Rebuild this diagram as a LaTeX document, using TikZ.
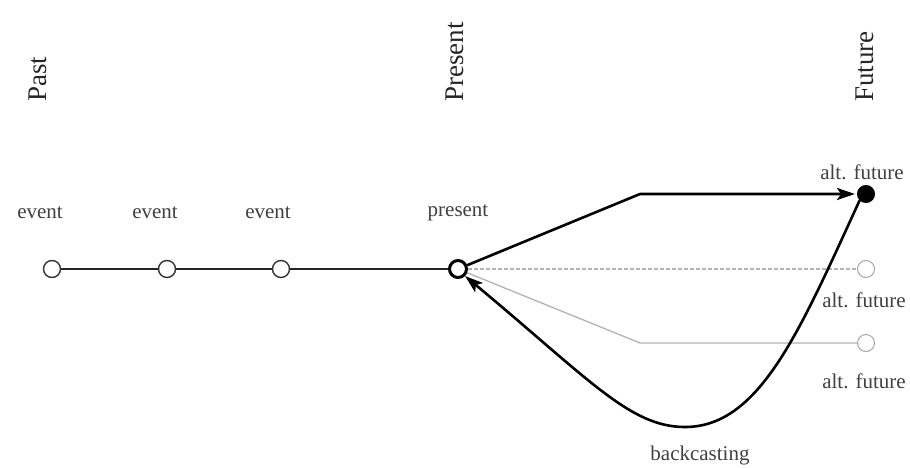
\documentclass[tikz,border=0pt]{standalone}
\usepackage{fontspec}
\setmainfont{Liberation Serif}
\usetikzlibrary{arrows.meta}
\begin{document}
\begin{tikzpicture}[x=1pt,y=-1pt,
  header/.style={rotate=90,anchor=west,font=\fontsize{27}{29}\selectfont,text=black!85,inner sep=0pt},
  lbl/.style={font=\fontsize{21}{23}\selectfont,text=black!75,inner sep=0pt},
  evt/.style={circle,draw=black!80,fill=white,line width=1.4pt,minimum size=17pt,inner sep=0pt},
  pres/.style={circle,draw=black,fill=white,line width=3pt,minimum size=17pt,inner sep=0pt},
  futfill/.style={circle,draw=black,fill=black,line width=1pt,minimum size=17pt,inner sep=0pt},
  futalt/.style={circle,draw=black!35,fill=white,line width=1pt,minimum size=17pt,inner sep=0pt},
  mainline/.style={line width=2pt,draw=black!85},
  arr/.style={line width=2.6pt,draw=black,-{Stealth[length=18pt,width=12pt,inset=4pt]}},
  altline/.style={line width=1.3pt,draw=black!30}
]
\useasboundingbox (0,0) rectangle (910,468);

% headers
\node[header] (hpast) at (38,102) {Past};
\node[header] (hpres) at (455,102) {Present};
\node[header] (hfut) at (865,102) {Future};

% nodes
\node[evt] (e1) at (52,269) {};
\node[evt] (e2) at (167,269) {};
\node[evt] (e3) at (281,269) {};
\node[pres] (p) at (458,269) {};
\node[futfill] (f1) at (866,194) {};
\node[futalt] (f2) at (866,269) {};
\node[futalt] (f3) at (866,343) {};

% labels
\node[lbl] (l1) at (40,213) {event};
\node[lbl] (l2) at (155,213) {event};
\node[lbl] (l3) at (268,213) {event};
\node[lbl] (lp) at (458,213) {present};
\node[lbl] (lf1) at (862,172) {alt. future};
\node[lbl] (lf2) at (864,300) {alt. future};
\node[lbl] (lf3) at (864,381) {alt. future};
\node[lbl] (lb) at (700,455) {backcasting};

\coordinate (k1) at (640,194);
\coordinate (k3) at (640,343);

% timeline
\draw[mainline] (e1) -- (e2) -- (e3) -- (p);

% alternatives
\draw[altline,dashed,dash pattern=on 4pt off 2pt] (p) -- (f2);
\draw[altline] (p) -- (k3) -- (f3);

% forecast arrow
\draw[arr,line join=round] (p) -- (k1) -- ([xshift=-2pt]f1.west);

% backcasting
\draw[arr] (f1.south west) .. controls (800,330) and (760,427) .. (685,427)
   .. controls (630,427) and (590,380) .. (p.south east);
\end{tikzpicture}
\end{document}
